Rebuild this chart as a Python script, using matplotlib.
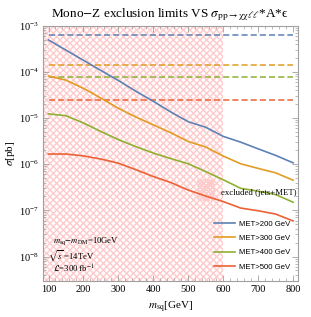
import matplotlib
matplotlib.use('Agg')
import matplotlib.pyplot as plt
from matplotlib.patches import Rectangle
from matplotlib.ticker import LogLocator, MultipleLocator, NullFormatter
import numpy as np

plt.rcParams['font.family'] = ['Liberation Serif', 'DejaVu Serif']
plt.rcParams['mathtext.fontset'] = 'stix'
plt.rcParams['hatch.linewidth'] = 1.0

# data
m_sq = [100, 150, 200, 250, 300, 350, 400, 450, 500, 550, 600, 650, 700, 750, 800]
met200 = [4.9e-4, 2.95e-4, 1.78e-4, 1.07e-4, 6.5e-5, 3.8e-5, 2.3e-5, 1.35e-5,
          8.3e-6, 6.3e-6, 4.0e-6, 3.0e-6, 2.15e-6, 1.55e-6, 1.07e-6]
met300 = [8.1e-5, 6.6e-5, 4.4e-5, 2.7e-5, 1.62e-5, 1.05e-5, 7.1e-6, 4.8e-6,
          3.1e-6, 2.35e-6, 1.5e-6, 1.02e-6, 8.1e-7, 6.5e-7, 4.5e-7]
met400 = [1.23e-5, 1.12e-5, 7.8e-6, 5.1e-6, 3.4e-6, 2.4e-6, 1.74e-6, 1.32e-6,
          1.02e-6, 6.9e-7, 4.6e-7, 3.0e-7, 2.6e-7, 2.2e-7, 1.5e-7]
met500 = [1.66e-6, 1.66e-6, 1.51e-6, 1.29e-6, 1.05e-6, 7.6e-7, 5.4e-7, 4.0e-7,
          2.75e-7, 2.04e-7, 1.55e-7, 1.12e-7, 9.8e-8, 8.3e-8, 5.9e-8]
# exclusion limits (dashed)
limits = [6.2e-4, 1.4e-4, 7.7e-5, 2.45e-5]
labels = ['MET>200 GeV', 'MET>300 GeV', 'MET>400 GeV', 'MET>500 GeV']
excluded_max = 600

colors = ['#5E81B5', '#E19C24', '#8FB032', '#EB6235']

fig = plt.figure(figsize=(3.11, 3.17), dpi=100)
ax = fig.add_axes([0.138, 0.1136, 0.819, 0.8054])
ax.set_yscale('log')
ax.set_xlim(84, 813)
ax.set_ylim(2.95e-9, 1e-3)

# excluded region (jets+MET)
ax.axvspan(84, excluded_max, facecolor='none', edgecolor='#FFCACA',
           hatch='xxxxx', linewidth=0, zorder=0)

for lim, c in zip(limits, colors):
    ax.hlines(lim, m_sq[0], m_sq[-1], colors=c, linestyles=(0, (4, 2)), lw=1.1)

lines = []
for ys, c, lab in zip([met200, met300, met400, met500], colors, labels):
    ln, = ax.plot(m_sq, ys, color=c, lw=1.2, label=lab)
    lines.append(ln)

# legend
leg = ax.legend(handles=lines, loc='lower right', bbox_to_anchor=(1.0, 0.012),
                frameon=False, prop={'family': 'Liberation Sans', 'size': 5.6},
                handlelength=2.6, handletextpad=0.6, labelspacing=0.9)

# hatch legend marker + label
ax.add_patch(Rectangle((0.605, 0.315), 0.07, 0.085, transform=ax.transAxes,
                       facecolor='none', edgecolor='#FFCACA', hatch='xxxxxxxx',
                       linewidth=0, zorder=0))
ax.text(0.995, 0.345, 'excluded (jets+MET)', transform=ax.transAxes,
        ha='right', va='center', fontsize=6.3)

# annotations
ax.text(0.04, 0.158, r'$m_{\rm sq}$$-$$m_{\rm DM}$=10GeV', transform=ax.transAxes,
        fontsize=6.2, ha='left', va='center')
ax.text(0.02, 0.096, r'$\sqrt{s}$ =14TeV', transform=ax.transAxes,
        fontsize=6.2, ha='left', va='center')
ax.text(0.04, 0.048, r'$\mathcal{L}$=300 fb$^{-1}$', transform=ax.transAxes,
        fontsize=6.2, ha='left', va='center')

# axes style
for sp in ax.spines.values():
    sp.set_color('#A0A0A0')
    sp.set_linewidth(0.8)
ax.xaxis.set_major_locator(MultipleLocator(100))
ax.xaxis.set_minor_locator(MultipleLocator(20))
ax.yaxis.set_major_locator(LogLocator(base=10, numticks=20))
ax.yaxis.set_minor_locator(LogLocator(base=10, subs=np.arange(2, 10), numticks=20))
ax.yaxis.set_minor_formatter(NullFormatter())
ax.tick_params(which='both', direction='in', top=True, right=True,
               color='#A0A0A0', labelsize=7.5, pad=3)
ax.tick_params(which='major', length=4, width=0.6)
ax.tick_params(which='minor', length=2, width=0.5)

ax.set_xlabel(r'$m_{\rm sq}$[GeV]', fontsize=8, labelpad=4)
ax.set_ylabel(r'$\sigma$[pb]', fontsize=8, labelpad=1)
ax.set_title(r'Mono$-$Z exclusion limits VS $\sigma_{\rm pp\rightarrow\chi\chi\ell\ell}$*A*ϵ',
             fontsize=9.5, pad=6)

fig.savefig('out.png', dpi=100)
